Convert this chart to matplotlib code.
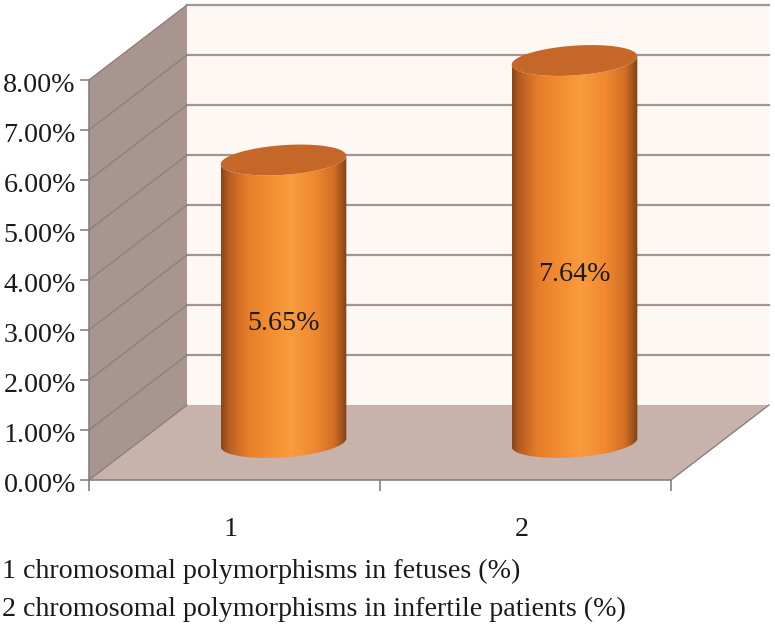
import numpy as np
import matplotlib
matplotlib.use("Agg")
import matplotlib.pyplot as plt
from matplotlib.patches import Polygon
from matplotlib.colors import LinearSegmentedColormap
from matplotlib.transforms import ScaledTranslation

categories = [1, 2]
values = [5.65, 7.64]
value_labels = ["5.65%", "7.64%"]
y_ticks = [0, 1, 2, 3, 4, 5, 6, 7, 8]
y_tick_labels = ["0.00%", "1.00%", "2.00%", "3.00%", "4.00%", "5.00%", "6.00%", "7.00%", "8.00%"]
notes = ["1 chromosomal polymorphisms in fetuses (%)",
         "2 chromosomal polymorphisms in infertile patients (%)"]

W, H = 775, 626
PX_X, PX_Y = 291.0, 50.0      # pixels per category / per percent
DX, DY = 98 / PX_X, 1.5       # 3D depth offset in data units
plt.rcParams["font.family"] = ["Liberation Serif", "DejaVu Serif"]
FS = 20.2

fig = plt.figure(figsize=(W / 100, H / 100), dpi=100, facecolor="white")
ax = fig.add_axes([89 / W, (H - 480) / H, 582 / W, 400 / H])
ax.patch.set_visible(False)
XMIN, XMAX = 0.5, 2.5
YMIN, YMAX = 0, 8

# walls
back = Polygon([(XMIN + DX, YMIN + DY), (XMAX + DX, YMIN + DY), (XMAX + DX, YMAX + DY), (XMIN + DX, YMAX + DY)],
               closed=True, fc="#fdf8f4", ec="none", clip_on=False, zorder=1)
side = Polygon([(XMIN, YMIN), (XMIN + DX, YMIN + DY), (XMIN + DX, YMAX + DY), (XMIN, YMAX)],
               closed=True, fc="#a9958f", ec="none", clip_on=False, zorder=1)
floor = Polygon([(XMIN, YMIN), (XMAX, YMIN), (XMAX + DX, YMIN + DY), (XMIN + DX, YMIN + DY)],
                closed=True, fc="#c7b2ac", ec="none", clip_on=False, zorder=1)
for p in (back, side, floor):
    ax.add_patch(p)
for t in y_ticks[1:]:
    ax.plot([XMIN + DX, XMAX + DX], [t + DY, t + DY], color="#a39492", lw=1.6, clip_on=False, zorder=2)
    ax.plot([XMIN, XMIN + DX], [t, t + DY], color="#8f7f7c", lw=1.0, clip_on=False, zorder=2)
ax.plot([XMIN, XMIN + DX], [0, DY], color="#8f7f7c", lw=1.0, clip_on=False, zorder=2)
ax.plot([XMAX, XMAX + DX], [0, DY], color="#8a7f7f", lw=1.0, clip_on=False, zorder=2)

# cylinders
cmap = LinearSegmentedColormap.from_list("cyl", [
    (0.0, "#8a4418"), (0.06, "#b55d22"), (0.2, "#e67c2a"), (0.35, "#f28a30"),
    (0.55, "#f99c3e"), (0.75, "#f08830"), (0.9, "#d26e25"), (0.97, "#99501c"), (1.0, "#7f3e15")])
grad = np.linspace(0, 1, 256).reshape(1, -1)
ux, uy = 62 / PX_X, 6.5 / PX_Y
vx, vy = -10 / PX_X, 14 / PX_Y
T0 = np.arctan2(vx * PX_X, ux * PX_X)


def ell(cx, cy, t):
    return cx + ux * np.cos(t) + vx * np.sin(t), cy + uy * np.cos(t) + vy * np.sin(t)


for c, v, lab, frac in zip(categories, values, value_labels, (0.42, 0.44)):
    cx = c + DX / 2
    base = DY / 2
    tt = np.linspace(T0 - np.pi, T0, 80)      # lower half, left to right
    bx, by = ell(cx, base, tt)
    tx, ty = ell(cx, base + v, tt[::-1])
    verts = np.column_stack([np.r_[bx, tx], np.r_[by, ty]])
    clip = Polygon(verts, closed=True, transform=ax.transData, fc="none", ec="none")
    ax.add_patch(clip)
    half = np.hypot(ux * PX_X, vx * PX_X) / PX_X
    im = ax.imshow(grad, extent=[cx - half, cx + half, base - 1, base + v + 1], aspect="auto",
                   cmap=cmap, zorder=3, interpolation="bilinear")
    im.set_clip_path(clip)
    im.set_clip_box(fig.bbox)
    tc = np.linspace(0, 2 * np.pi, 160)
    ex, ey = ell(cx, base + v, tc)
    ax.add_patch(Polygon(np.column_stack([ex, ey]), closed=True, fc="#c6672a", ec="none",
                         clip_on=False, zorder=4))
    ax.text(cx, base + v * frac, lab, ha="center", va="center", fontsize=FS, color="#1a1a1a", zorder=5)

ax.set_xlim(XMIN, XMAX)
ax.set_ylim(YMIN, YMAX)
for s in ("top", "right"):
    ax.spines[s].set_visible(False)
for s in ("left", "bottom"):
    ax.spines[s].set_color("#8a7f7f")
    ax.spines[s].set_linewidth(1.2)
    ax.spines[s].set_zorder(6)
ax.set_yticks(y_ticks)
ax.set_yticklabels(y_tick_labels, fontsize=FS, color="#1a1a1a")
ax.tick_params(axis="y", length=6.5, width=1.2, color="#8a7f7f", pad=3)
ax.set_xticks([0.5, 1.5, 2.5])
ax.set_xticklabels([])
ax.tick_params(axis="x", which="major", length=8, width=1.2, color="#8a7f7f")
ax.set_xticks(categories, minor=True)
ax.set_xticklabels([str(c) for c in categories], minor=True, fontsize=FS, color="#1a1a1a")
ax.tick_params(axis="x", which="minor", length=0, pad=27)

down = ScaledTranslation(0, -3 / 100, fig.dpi_scale_trans)
for lbl in ax.get_yticklabels():
    lbl.set_transform(lbl.get_transform() + down)
left = ScaledTranslation(-4 / 100, 0, fig.dpi_scale_trans)
for lbl in ax.get_xticklabels(minor=True):
    lbl.set_transform(lbl.get_transform() + left)

fig.text(2 / W, 1 - 571 / H, notes[0], fontsize=FS, va="center", ha="left", color="#1a1a1a")
fig.text(2 / W, 1 - 609 / H, notes[1], fontsize=FS, va="center", ha="left", color="#1a1a1a")
fig.savefig("out.png", dpi=100)
